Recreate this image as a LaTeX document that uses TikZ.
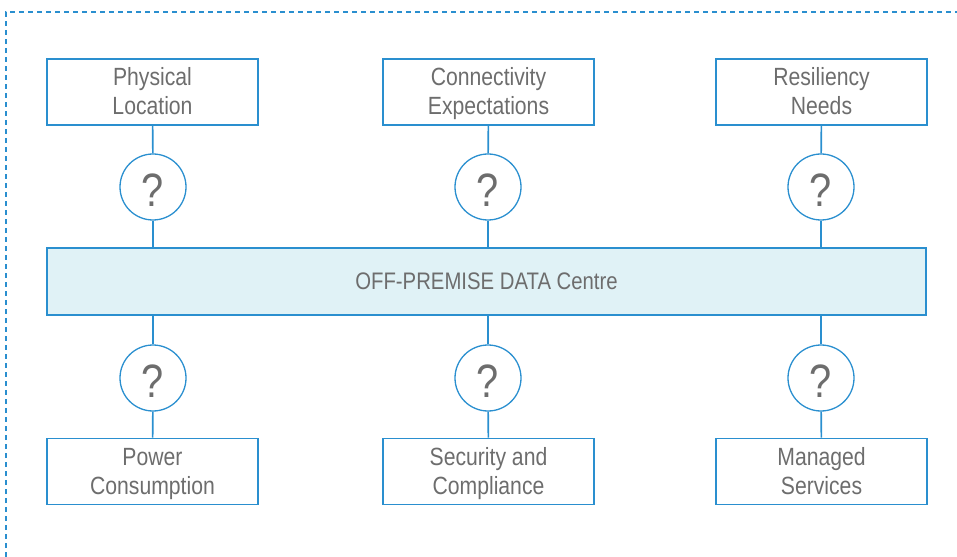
\documentclass[tikz,border=0pt]{standalone}
\usepackage{fontspec}
\setmainfont[FakeStretch=0.85]{Liberation Sans}
\definecolor{lblue}{HTML}{2A8FCF}
\definecolor{lfill}{HTML}{E0F2F6}
\definecolor{ltext}{HTML}{6D6D6D}
\newcommand{\ls}{\strut}
\begin{document}
\begin{tikzpicture}[x=1bp,y=-1bp,
  topic/.style={draw=lblue,line width=1.6bp,minimum width=211bp,minimum height=66bp,inner sep=0pt,
    text=ltext,font=\fontsize{25}{29}\selectfont,align=center},
  label/.style={inner sep=0pt,text=ltext,font=\fontsize{25}{29}\selectfont,align=center},
  qmark/.style={circle,draw=lblue,line width=1.3bp,minimum size=66bp,inner sep=0pt,
    text=ltext,font=\fontsize{47}{47}\selectfont},
  qtext/.style={inner sep=0pt,text=ltext,font=\fontsize{47}{47}\selectfont},
  link/.style={draw=lblue,line width=1.6bp}]
\useasboundingbox (0,0) rectangle (957,557);
\draw[lblue,line width=1.2bp,dash pattern=on 5bp off 4bp] (6,557) -- (6,12) -- (957,12);
\node[draw=lblue,fill=lfill,line width=1.6bp,minimum width=879bp,minimum height=67bp,inner sep=0pt,
  text=ltext,font=\fontsize{24}{28}\selectfont] (dc) at (486.5,281.5) {OFF-PREMISE DATA Centre};
\node[topic] (t1) at (152.5,92) {};
\node[topic] (t2) at (488.5,92) {};
\node[topic] (t3) at (821.5,92) {};
\node[topic] (b1) at (152.5,471.5) {};
\node[topic] (b2) at (488.5,471.5) {};
\node[topic] (b3) at (821.5,471.5) {};
\node[label] (l1) at ([yshift=-2.5bp]t1.center) {\ls Physical\\\ls Location};
\node[label] (l2) at ([yshift=-2.5bp]t2.center) {\ls Connectivity\\\ls Expectations};
\node[label] (l3) at ([yshift=-2.5bp]t3.center) {\ls Resiliency\\\ls Needs};
\node[label] (l4) at ([yshift=-2.5bp]b1.center) {\ls Power\\\ls Consumption};
\node[label] (l5) at ([yshift=-2.5bp]b2.center) {\ls Security and\\\ls Compliance};
\node[label] (l6) at ([yshift=-2.5bp]b3.center) {\ls Managed\\\ls Services};
\node[qmark] (q1) at (153,187) {};
\node[qmark] (q2) at (488,187) {};
\node[qmark] (q3) at (821,187) {};
\node[qmark] (q4) at (153,378) {};
\node[qmark] (q5) at (488,378) {};
\node[qmark] (q6) at (821,378) {};
\foreach \q in {q1,q2,q3,q4,q5,q6}{
  \node[qtext] (\q t) at ([yshift=-3bp]\q.center) {?};}
\foreach \a/\b in {t1/q1,t2/q2,t3/q3,q4/b1,q5/b2,q6/b3}{
  \draw[link] (\a) -- (\b);}
\draw[link] (q1) -- (q1|-dc.north);
\draw[link] (q2) -- (q2|-dc.north);
\draw[link] (q3) -- (q3|-dc.north);
\draw[link] (q4) -- (q4|-dc.south);
\draw[link] (q5) -- (q5|-dc.south);
\draw[link] (q6) -- (q6|-dc.south);
\end{tikzpicture}
\end{document}
